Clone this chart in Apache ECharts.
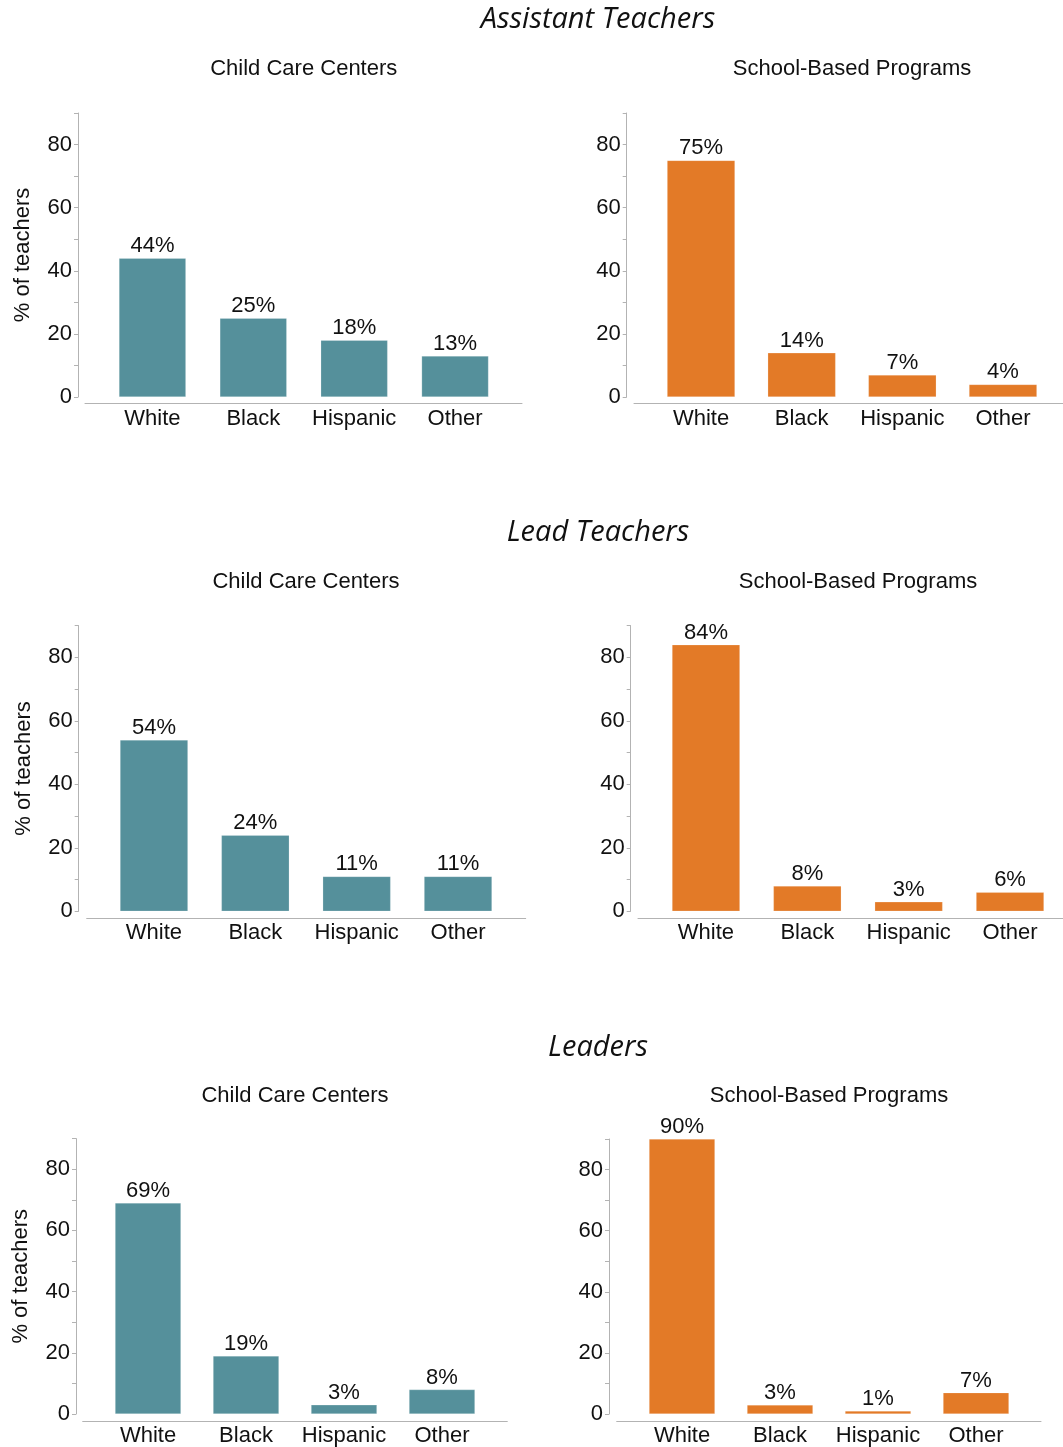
<!DOCTYPE html>
<html>
<head>
<meta charset="utf-8">
<title>Race/ethnicity of early childhood staff</title>
<script src="https://cdn.jsdelivr.net/npm/echarts@6/dist/echarts.min.js"></script>
<style>
  html, body { margin: 0; padding: 0; background: #ffffff; }
  #chart { width: 1063px; height: 1447px; }
</style>
</head>
<body>
<div id="chart"></div>
<script>
// Categories and percentages of teachers by race/ethnicity
var categories = ['White', 'Black', 'Hispanic', 'Other'];

var assistantCenters = [44, 25, 18, 13];
var assistantSchools = [75, 14, 7, 4];
var leadCenters = [54, 24, 11, 11];
var leadSchools = [84, 8, 3, 6];
var leaderCenters = [69, 19, 3, 8];
var leaderSchools = [90, 3, 1, 7];

var yMax = 90;
var yTickStep = 10;
var yLabelStep = 20;

var rowTitles = ['Assistant Teachers', 'Lead Teachers', 'Leaders'];
var panelTitles = ['Child Care Centers', 'School-Based Programs'];
var yAxisName = '% of teachers';

var TEAL = '#55909b';
var ORANGE = '#e37a27';
var AXIS_GRAY = '#b3b3b3';
var TEXT = '#111111';
var SANS = '"Liberation Sans", Arial, Helvetica, sans-serif';
var TITLE_FONT = '"Open Sans", "Noto Sans", sans-serif';
var FS = 22;

// Panel geometry (pixels): y-axis x, bar area left/right, top (=yMax), baseline (=0),
// detached x-axis line y and its extent, bar width
var panels = [
  { data: assistantCenters, color: TEAL,   title: panelTitles[0], yName: true,
    axisX: 78,    left: 102,   right: 505.5,  top: 113,    zero: 397,    lineY: 403.5, lineL: 85,    lineR: 522,  barW: 67, titleY: 69 },
  { data: assistantSchools, color: ORANGE, title: panelTitles[1], yName: false,
    axisX: 626.7, left: 650.7, right: 1053.3, top: 113,    zero: 397,    lineY: 403.7, lineL: 634,   lineR: 1070, barW: 68, titleY: 69 },
  { data: leadCenters,      color: TEAL,   title: panelTitles[0], yName: true,
    axisX: 78.7,  left: 103.3, right: 508.7,  top: 625.6,  zero: 911.3,  lineY: 918.5, lineL: 86.7,  lineR: 525.7, barW: 68, titleY: 582 },
  { data: leadSchools,      color: ORANGE, title: panelTitles[1], yName: false,
    axisX: 630.7, left: 655.3, right: 1060.7, top: 625.6,  zero: 911.3,  lineY: 918.7, lineL: 638,   lineR: 1077, barW: 68, titleY: 582 },
  { data: leaderCenters,    color: TEAL,   title: panelTitles[0], yName: true,
    axisX: 76,    left: 99,    right: 491,    top: 1138.6, zero: 1414.7, lineY: 1421.5, lineL: 82.7, lineR: 507.3, barW: 66, titleY: 1096 },
  { data: leaderSchools,    color: ORANGE, title: panelTitles[1], yName: false,
    axisX: 609,   left: 633,   right: 1025,   top: 1139,   zero: 1414.3, lineY: 1421.7, lineL: 616.7, lineR: 1041, barW: 66, titleY: 1096 }
];

var rowTitleY = [20, 533, 1048];

var chart = echarts.init(document.getElementById('chart'), null, { renderer: 'canvas' });

var grid = [], xAxis = [], yAxis = [], series = [], title = [];

rowTitles.forEach(function (t, i) {
  title.push({
    text: t, left: 598, top: rowTitleY[i], padding: 0,
    textAlign: 'center', textVerticalAlign: 'middle',
    textStyle: { fontFamily: TITLE_FONT, fontStyle: 'italic', fontWeight: 'normal', fontSize: 29, color: TEXT }
  });
});

panels.forEach(function (p, i) {
  var g = grid.length;

  // bar area
  grid.push({ left: p.left, top: p.top, width: p.right - p.left, height: p.zero - p.top, containLabel: false });
  xAxis.push({
    type: 'category', gridIndex: g, data: categories,
    axisLine: { show: false }, axisTick: { show: false },
    axisLabel: { interval: 0, margin: 11, fontFamily: SANS, fontSize: FS, color: TEXT }
  });
  yAxis.push({
    type: 'value', gridIndex: g, min: 0, max: yMax, interval: yTickStep,
    offset: p.left - p.axisX,
    name: p.yName ? yAxisName : '', nameLocation: 'middle', nameRotate: 90, nameGap: 44,
    nameTextStyle: { fontFamily: SANS, fontSize: FS, color: TEXT },
    axisLine: { show: true, lineStyle: { color: AXIS_GRAY, width: 1 } },
    axisTick: { show: true, length: 4, lineStyle: { color: AXIS_GRAY, width: 1 } },
    splitLine: { show: false },
    axisLabel: {
      margin: 6, fontFamily: SANS, fontSize: FS, color: TEXT,
      formatter: function (v) { return v % yLabelStep === 0 && v < yMax ? String(v) : ''; }
    }
  });
  series.push({
    type: 'bar', xAxisIndex: g, yAxisIndex: g, data: p.data, barWidth: p.barW,
    itemStyle: { color: p.color, borderColor: 'rgba(255,255,255,0.35)', borderWidth: 0.6 },
    label: {
      show: true, position: 'top', distance: 1, formatter: '{c}%',
      fontFamily: SANS, fontSize: FS, color: TEXT
    },
    silent: true, animation: false
  });

  // detached category baseline
  var g2 = grid.length;
  grid.push({ left: p.lineL, top: p.lineY - 10, width: p.lineR - p.lineL, height: 10, containLabel: false });
  xAxis.push({
    type: 'value', gridIndex: g2, min: 0, max: 1, position: 'bottom',
    axisLine: { show: true, lineStyle: { color: AXIS_GRAY, width: 1 } },
    axisTick: { show: false }, axisLabel: { show: false }, splitLine: { show: false }
  });
  yAxis.push({ type: 'value', gridIndex: g2, show: false, min: 0, max: 1 });

  title.push({
    text: p.title, left: (p.left + p.right) / 2, top: p.titleY, padding: 0,
    textAlign: 'center', textVerticalAlign: 'middle',
    textStyle: { fontFamily: SANS, fontWeight: 'normal', fontSize: FS, color: TEXT }
  });
});

chart.setOption({
  animation: false,
  backgroundColor: '#ffffff',
  title: title,
  grid: grid,
  xAxis: xAxis,
  yAxis: yAxis,
  series: series
});
</script>
</body>
</html>
